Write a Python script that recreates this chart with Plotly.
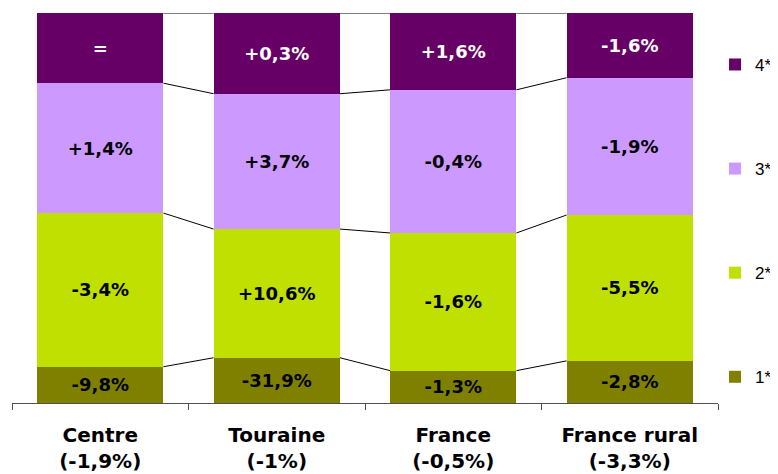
import plotly.graph_objects as go

categories = ["Centre<br>(-1,9%)", "Touraine<br>(-1%)", "France<br>(-0,5%)", "France rural<br>(-3,3%)"]
series_names = ["1*", "2*", "3*", "4*"]
share_1 = [9.3, 11.6, 8.3, 10.8]
share_2 = [39.4, 33.0, 35.3, 37.4]
share_3 = [33.3, 34.7, 36.7, 35.2]
share_4 = [18.0, 20.7, 19.7, 16.6]
labels_1 = ["-9,8%", "-31,9%", "-1,3%", "-2,8%"]
labels_2 = ["-3,4%", "+10,6%", "-1,6%", "-5,5%"]
labels_3 = ["+1,4%", "+3,7%", "-0,4%", "-1,9%"]
labels_4 = ["=", "+0,3%", "+1,6%", "-1,6%"]

colors = ["#808000", "#BFE000", "#CC99FF", "#660066"]
text_colors = ["black", "black", "black", "white"]
FONT = "DejaVu Sans"
BAR_W = 0.716

values = [share_1, share_2, share_3, share_4]
labels = [labels_1, labels_2, labels_3, labels_4]
xpos = list(range(len(categories)))

fig = go.Figure()

# connector lines between stacked boundaries
cum = [0.0] * len(categories)
for k, vals in enumerate(values):
    cum = [c + v for c, v in zip(cum, vals)]
    xs, ys = [], []
    for i in range(len(categories) - 1):
        xs += [i + BAR_W / 2, i + 1 - BAR_W / 2, None]
        ys += [cum[i], cum[i + 1], None]
    fig.add_trace(go.Scatter(x=xs, y=ys, mode="lines", line=dict(color="black", width=1),
                             showlegend=False, hoverinfo="skip"))

n = len(series_names)
for k, (name, vals, labs) in enumerate(zip(series_names, values, labels)):
    fig.add_trace(go.Bar(
        x=xpos, y=vals, name=name, width=BAR_W,
        marker=dict(color=colors[k], line=dict(width=0)),
        text=labs, textposition="inside", insidetextanchor="middle",
        textangle=0, constraintext="none",
        textfont=dict(family=FONT, size=18, color=text_colors[k], weight="bold"),
        legendgroup=name, legendrank=n - k,
    ))

fig.update_layout(
    barmode="stack",
    width=770, height=466,
    margin=dict(l=4, r=60, t=5, b=71, autoexpand=False),
    plot_bgcolor="white", paper_bgcolor="white",
    font=dict(family=FONT, color="black"),
    legend=dict(
        x=0.9958, xanchor="left", y=0.913, yanchor="top",
        traceorder="grouped", tracegroupgap=79,
        font=dict(family="Arial", size=17, color="black"),
        bgcolor="rgba(0,0,0,0)",
    ),
    xaxis=dict(
        range=[-0.5, len(categories) - 0.5],
        tickvals=xpos, ticktext=categories,
        ticks="", showgrid=False, zeroline=False,
        showline=True, linecolor="#505050", linewidth=1,
        ticklabelstandoff=14,
        tickfont=dict(family=FONT, size=20, color="black", weight="bold"),
        minor=dict(tickmode="array", tickvals=[i - 0.5 for i in range(len(categories) + 1)],
                   ticks="outside", ticklen=6, tickcolor="#505050", tickwidth=1, showgrid=False),
    ),
    yaxis=dict(range=[0, 100], visible=False),
)

fig.write_html("out.html")
